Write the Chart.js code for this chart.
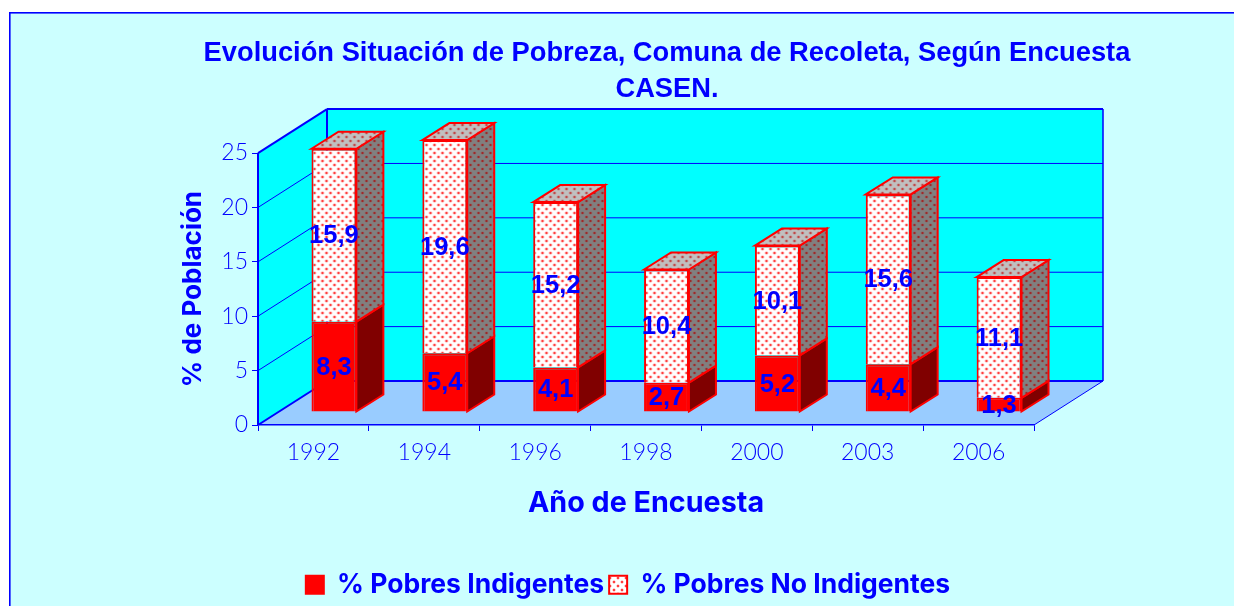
<!DOCTYPE html>
<html><head><meta charset="utf-8">
<style>html,body{margin:0;padding:0;background:#fff}canvas{display:block}</style>
<script src="https://cdn.jsdelivr.net/npm/chart.js@4"></script>
</head><body>
<div style="width:1234px;height:606px"><canvas id="c" width="1234" height="606"></canvas></div>
<script>
const categories = ['1992','1994','1996','1998','2000','2003','2006'];
const indigentes = [8.3,5.4,4.1,2.7,5.2,4.4,1.3];
const noIndigentes = [15.9,19.6,15.2,10.4,10.1,15.6,11.1];
const seriesNames = ['% Pobres Indigentes','% Pobres No Indigentes'];
const titleLines = ['Evolución Situación de Pobreza, Comuna de Recoleta, Según Encuesta','CASEN.'];
const yTitle = '% de Población';
const xTitle = 'Año de Encuesta';

const BLUE='#0000FF', RED='#FF0000';
const WALL_DX=69, WALL_DY=44, BAR_DX=20.5, BAR_DY=13, LABEL_DY=12, SIDE_DX=27, SIDE_DY=17;

function dots(bg,dot,halo){
  const s=document.createElement('canvas');s.width=8;s.height=8;
  const g=s.getContext('2d');g.fillStyle=bg;g.fillRect(0,0,8,8);
  for(const [x,y] of [[1,1],[5,5]]){
    g.fillStyle=halo;g.fillRect(x-1,y,4,2);g.fillRect(x,y-1,2,4);
    g.fillStyle=dot;g.fillRect(x,y,2,2);
  }
  return document.getElementById('c').getContext('2d').createPattern(s,'repeat');
}
const frontPat=dots('#FFFFFF','#FF4040','#FFD4D4');
const sidePat=dots('#808080','#A02828','#867474');
const topPat=dots('#C0C0C0','#C04848','#C0A8A8');

function poly(ctx,pts,fill,stroke,lw){
  ctx.beginPath();pts.forEach((p,i)=>i?ctx.lineTo(p[0],p[1]):ctx.moveTo(p[0],p[1]));ctx.closePath();
  if(fill){ctx.fillStyle=fill;ctx.fill();}
  if(stroke){ctx.strokeStyle=stroke;ctx.lineWidth=lw;ctx.lineJoin='miter';ctx.stroke();}
}
function seg(ctx,a,b,c,d,lw,col){ctx.beginPath();ctx.moveTo(a,b);ctx.lineTo(c,d);ctx.lineWidth=lw;ctx.strokeStyle=col||BLUE;ctx.stroke();}

const scene={
  id:'scene',
  afterLayout(chart){
    chart.titleBlock.left=107;chart.titleBlock.right=1227;
    chart.legend.left+=22;chart.legend.right+=22;
    chart.legend.top+=2;chart.legend.bottom+=2;
  },
  beforeDraw(chart){
    const ctx=chart.ctx,xs=chart.scales.x,ys=chart.scales.y;
    const L=xs.left,R=xs.right,B=ys.getPixelForValue(0),T=ys.getPixelForValue(25);
    ctx.save();
    ctx.fillStyle='#FFFFFF';ctx.fillRect(0,0,1234,606);
    ctx.fillStyle='#CCFFFF';ctx.fillRect(9,12,1225,594);
    ctx.fillStyle=BLUE;ctx.fillRect(9,12,1225,1.6);ctx.fillRect(9,12,1.6,594);
    poly(ctx,[[L+WALL_DX,T-WALL_DY],[R+WALL_DX,T-WALL_DY],[R+WALL_DX,B-WALL_DY],[L+WALL_DX,B-WALL_DY]],'#00FFFF');
    poly(ctx,[[L,T],[L+WALL_DX,T-WALL_DY],[L+WALL_DX,B-WALL_DY],[L,B]],'#00FFFF');
    poly(ctx,[[L,B],[L+WALL_DX,B-WALL_DY],[R+WALL_DX,B-WALL_DY],[R,B]],'#99CCFF');
    for(const t of ys.ticks){
      const y=ys.getPixelForValue(t.value);
      if(t.value>0&&t.value<25){
        seg(ctx,L,y,L+WALL_DX,y-WALL_DY,1);
        seg(ctx,L+WALL_DX,y-WALL_DY,R+WALL_DX,y-WALL_DY,1);
      }
    }
    seg(ctx,L,T,L+WALL_DX,T-WALL_DY,2);
    seg(ctx,L+WALL_DX,T-WALL_DY,R+WALL_DX,T-WALL_DY,2);
    seg(ctx,R+WALL_DX,T-WALL_DY,R+WALL_DX,B-WALL_DY,1.5);
    seg(ctx,L+WALL_DX,T-WALL_DY,L+WALL_DX,B-WALL_DY,2);
    seg(ctx,L+WALL_DX,B-WALL_DY,R+WALL_DX,B-WALL_DY,2);
    seg(ctx,L,B,L+WALL_DX,B-WALL_DY,2);
    seg(ctx,R,B,R+WALL_DX,B-WALL_DY,1);
    seg(ctx,L,T,L,B,2);
    ctx.restore();
  },
  beforeDatasetsDraw(chart){
    const ctx=chart.ctx;
    ctx.save();
    ctx.translate(BAR_DX,-BAR_DY);
    const n=categories.length;
    for(let i=0;i<n;i++){
      chart.data.datasets.forEach((ds,k)=>{
        const b=chart.getDatasetMeta(k).data[i];
        const r=b.x+b.width/2, t=b.y, bt=b.base;
        poly(ctx,[[r,t],[r+SIDE_DX,t-SIDE_DY],[r+SIDE_DX,bt-SIDE_DY],[r,bt]],k?sidePat:'#800000',RED,2);
        if(k===chart.data.datasets.length-1){
          const l=b.x-b.width/2;
          poly(ctx,[[l,t],[l+SIDE_DX,t-SIDE_DY],[r+SIDE_DX,t-SIDE_DY],[r,t]],topPat,RED,2);
        }
      });
    }
  },
  afterDatasetsDraw(chart){
    const ctx=chart.ctx;
    ctx.restore();
    ctx.save();
    ctx.font='bold 25.5px "Liberation Sans"';
    ctx.fillStyle=BLUE;ctx.textAlign='center';ctx.textBaseline='middle';
    chart.data.datasets.forEach((ds,k)=>{
      chart.getDatasetMeta(k).data.forEach((b,i)=>{
        ctx.fillText(ds.data[i].toFixed(1).replace('.',','),b.x+BAR_DX,(b.y+b.base)/2-LABEL_DY);
      });
    });
    ctx.restore();
  }
};

new Chart(document.getElementById('c'),{
  type:'bar',
  data:{labels:categories,datasets:[
    {label:seriesNames[0],data:indigentes,backgroundColor:RED,borderColor:RED,borderWidth:2,stack:'s'},
    {label:seriesNames[1],data:noIndigentes,backgroundColor:frontPat,borderColor:RED,borderWidth:2,stack:'s'}
  ]},
  options:{
    responsive:false,animation:false,devicePixelRatio:1,
    barPercentage:0.405,categoryPercentage:1,
    layout:{padding:{left:178,right:200,top:0,bottom:0}},
    plugins:{
      tooltip:{enabled:false},
      title:{display:true,text:titleLines,color:BLUE,font:{family:'"Liberation Sans"',size:27.3,weight:'bold',lineHeight:1.32},padding:{top:35,bottom:46}},
      legend:{display:true,position:'bottom',labels:{color:BLUE,boxWidth:18,boxHeight:18,padding:5,font:{family:'Inter',size:26.5,weight:'bold'}}}
    },
    scales:{
      x:{stacked:true,offset:true,
        afterFit(s){s.height=139.5;},
        border:{color:BLUE,width:1.6},
        grid:{display:true,offset:true,drawOnChartArea:false,drawTicks:true,tickLength:6,color:BLUE,lineWidth:1},
        ticks:{color:BLUE,padding:8,maxRotation:0,font:{family:'Lato',size:23,weight:'300'}},
        title:{display:true,text:xTitle,color:BLUE,padding:{top:16,bottom:44},font:{family:'Inter',size:28.7,weight:'bold'}}
      },
      y:{stacked:true,min:0,max:25,
        afterFit(s){s.width=80;},
        border:{display:false},
        grid:{display:true,drawOnChartArea:false,drawTicks:true,tickLength:6,color:BLUE,lineWidth:1},
        ticks:{color:BLUE,stepSize:5,padding:4,font:{family:'Lato',size:23,weight:'300'}},
        title:{display:true,text:yTitle,color:BLUE,padding:{top:0,bottom:10},font:{family:'Inter',size:26,weight:'bold'}}
      }
    }
  },
  plugins:[scene]
});
</script>
</body></html>
